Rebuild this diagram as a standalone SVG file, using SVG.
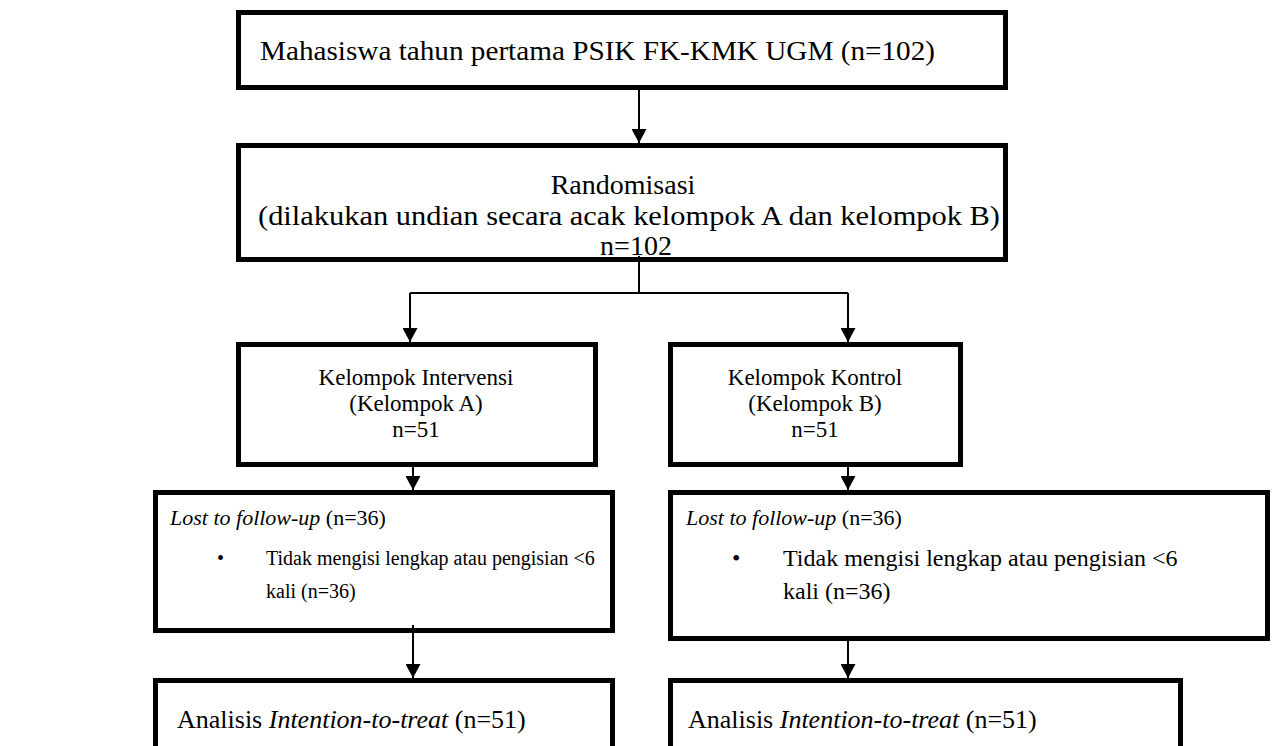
<svg xmlns="http://www.w3.org/2000/svg" width="1274" height="746" viewBox="0 0 1274 746">
<style>
.box{fill:#fff;stroke:#000;stroke-width:5}
.t{font-family:"Liberation Serif","Times New Roman",serif;font-size:28px;fill:#000}
.k{font-family:"Liberation Serif","Times New Roman",serif;font-size:23px;fill:#000;text-anchor:middle}
.l{font-family:"Liberation Serif","Times New Roman",serif;font-size:22px;fill:#000}
.s20{font-size:20px}
.s24{font-size:24px}
.s26{font-size:26px}
.c{text-anchor:middle}
.i{font-style:italic}
.conn{stroke:#000;stroke-width:2;fill:none}
</style>
<defs>
<marker id="ah" viewBox="0 0 14 15" refX="14" refY="7.5" markerWidth="14" markerHeight="15" markerUnits="userSpaceOnUse" orient="auto">
<path d="M0,0 L14,7.5 L0,15 z" fill="#000"/>
</marker>
</defs>
<rect width="1274" height="746" fill="#fff"/>
<g id="n-top">
<rect class="box" x="238.5" y="12.5" width="767" height="75"/>
<text class="t" x="260" y="60" textLength="675" lengthAdjust="spacingAndGlyphs">Mahasiswa tahun pertama PSIK FK-KMK UGM (n=102)</text>
</g>
<g id="n-random">
<rect class="box" x="238.5" y="145.5" width="767" height="114"/>
<text class="t c" x="623" y="194">Randomisasi</text>
<text class="t" x="258" y="225" textLength="742" lengthAdjust="spacingAndGlyphs">(dilakukan undian secara acak kelompok A dan kelompok B)</text>
<text class="t c" x="636" y="255">n=102</text>
</g>
<g id="n-a">
<rect class="box" x="238.5" y="344.5" width="357" height="120"/>
<text class="k" x="416" y="385">Kelompok Intervensi</text>
<text class="k" x="416" y="411">(Kelompok A)</text>
<text class="k" x="416" y="437">n=51</text>
</g>
<g id="n-b">
<rect class="box" x="670.5" y="344.5" width="290" height="120"/>
<text class="k" x="815" y="385">Kelompok Kontrol</text>
<text class="k" x="815" y="411">(Kelompok B)</text>
<text class="k" x="815" y="437">n=51</text>
</g>
<g id="n-lost-a">
<rect class="box" x="155.5" y="492.5" width="457" height="138"/>
<text class="l" x="170" y="525"><tspan class="i">Lost to follow-up</tspan> (n=36)</text>
<text class="l s20" x="217" y="565">•</text>
<text class="l s20" x="266" y="565">Tidak mengisi lengkap atau pengisian &lt;6</text>
<text class="l s20" x="266" y="598">kali (n=36)</text>
</g>
<g id="n-lost-b">
<rect class="box" x="670.5" y="492.5" width="597" height="146"/>
<text class="l" x="686" y="525"><tspan class="i">Lost to follow-up</tspan> (n=36)</text>
<text class="l s24" x="732" y="566">•</text>
<text class="l s24" x="783" y="566">Tidak mengisi lengkap atau pengisian &lt;6</text>
<text class="l s24" x="783" y="599">kali (n=36)</text>
</g>
<g id="n-itt-a">
<rect class="box" x="155.5" y="680.5" width="457" height="100"/>
<text class="t s26" x="177" y="728">Analisis <tspan class="i">Intention-to-treat</tspan> (n=51)</text>
</g>
<g id="n-itt-b">
<rect class="box" x="670.5" y="680.5" width="510" height="100"/>
<text class="t s26" x="688" y="728">Analisis <tspan class="i">Intention-to-treat</tspan> (n=51)</text>
</g>
<g id="connectors">
<path class="conn" d="M639,90 L639,143" marker-end="url(#ah)"/>
<path class="conn" d="M639,256 L639,293 M410,293 L848,293"/>
<path class="conn" d="M410,293 L410,342" marker-end="url(#ah)"/>
<path class="conn" d="M848,293 L848,342" marker-end="url(#ah)"/>
<path class="conn" d="M413,467 L413,490" marker-end="url(#ah)"/>
<path class="conn" d="M848,467 L848,490" marker-end="url(#ah)"/>
<path class="conn" d="M413,625 L413,678" marker-end="url(#ah)"/>
<path class="conn" d="M848,641 L848,678" marker-end="url(#ah)"/>
</g>
</svg>
